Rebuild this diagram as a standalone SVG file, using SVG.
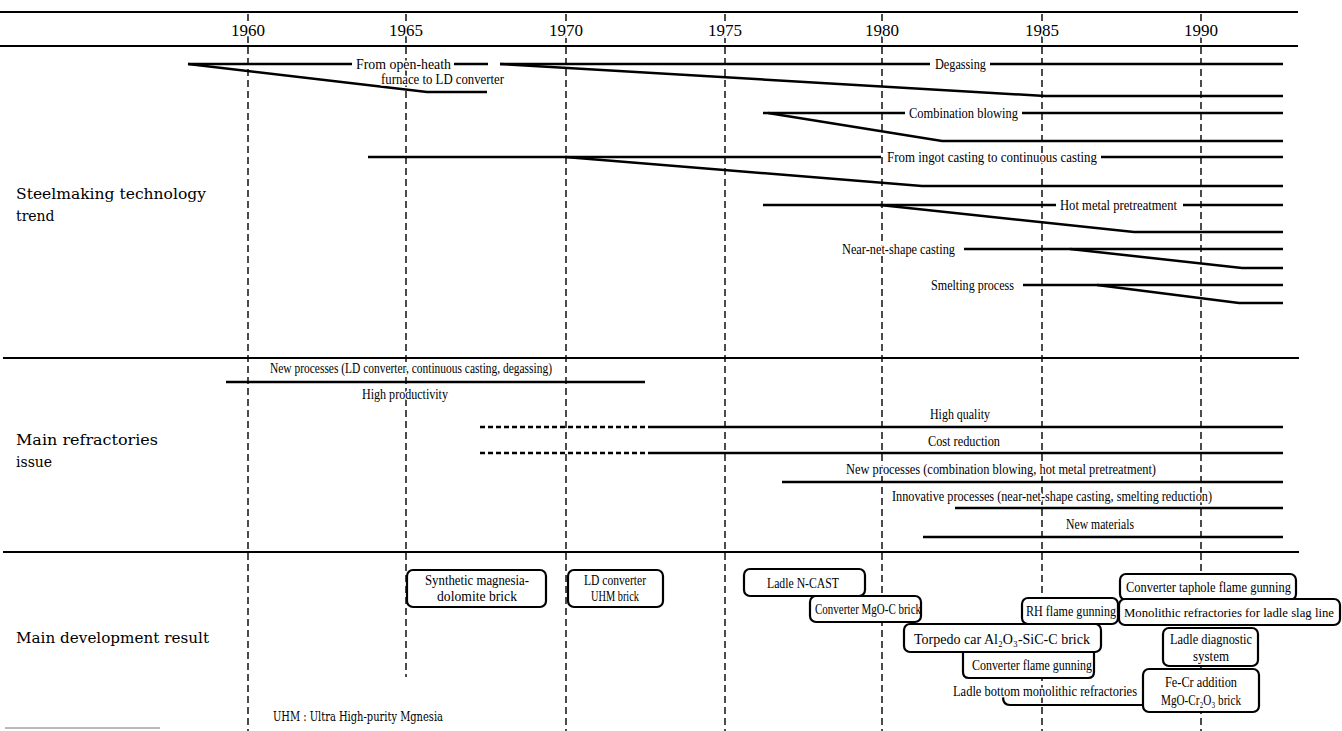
<svg xmlns="http://www.w3.org/2000/svg" width="1342" height="731" viewBox="0 0 1342 731">
<style>
.bg{fill:#fff}
.grid{stroke:#000;stroke-width:1.4;stroke-dasharray:7 4;fill:none}
.rule{stroke:#000;stroke-width:2.2;fill:none}
.ln{stroke:#000;stroke-width:2.5;fill:none;stroke-linecap:butt}
.dash{stroke:#000;stroke-width:2.3;stroke-dasharray:5 3;fill:none}
.yr{font-family:"Liberation Serif","Times New Roman",serif;font-size:17px;text-anchor:middle;fill:#000;stroke:#fff;stroke-width:4;paint-order:stroke}
.t{font-family:"Liberation Serif","Times New Roman",serif;font-size:14.5px;fill:#000;stroke:#fff;stroke-width:3;paint-order:stroke;stroke-linejoin:round}
.bt{font-family:"Liberation Serif","Times New Roman","DejaVu Serif",serif;font-size:14.5px;fill:#000}
.c{text-anchor:middle}
.lab{font-family:"DejaVu Serif","Liberation Serif",serif;font-size:14px;fill:#000}
.box{fill:#fff;stroke:#000;stroke-width:2.2}
.open{fill:none;stroke:#000;stroke-width:2.2}
</style>
<rect class="bg" x="0" y="0" width="1342" height="731"/>

<g id="grid">
  <line class="grid" x1="248" y1="14" x2="248" y2="731"/>
  <line class="grid" x1="406" y1="14" x2="406" y2="677"/>
  <line class="grid" x1="566" y1="14" x2="566" y2="731"/>
  <line class="grid" x1="725" y1="14" x2="725" y2="731"/>
  <line class="grid" x1="882" y1="14" x2="882" y2="731"/>
  <line class="grid" x1="1042" y1="14" x2="1042" y2="731"/>
  <line class="grid" x1="1201" y1="14" x2="1201" y2="731"/>
</g>

<g id="connectors">
  <line class="rule" x1="0" y1="12" x2="1298" y2="12"/>
  <line class="rule" x1="0" y1="46" x2="1298" y2="46"/>
  <line class="rule" x1="3" y1="358" x2="1299" y2="358"/>
  <line class="rule" x1="3" y1="552" x2="1299" y2="552"/>
  <line x1="5" y1="728" x2="160" y2="728" stroke="#777" stroke-width="1"/>

  <!-- open-heath -->
  <polyline class="ln" points="188,64 352,64"/>
  <polyline class="ln" points="454,64 488,64"/>
  <polyline class="ln" points="188,64 427,92 487,92"/>
  <!-- degassing -->
  <polyline class="ln" points="500,64 930,64"/>
  <polyline class="ln" points="990,64 1283,64"/>
  <polyline class="ln" points="500,64 1045,96 1283,96"/>
  <!-- combination blowing -->
  <polyline class="ln" points="763,113 905,113"/>
  <polyline class="ln" points="1022,113 1283,113"/>
  <polyline class="ln" points="768,113 942,141 1283,141"/>
  <!-- ingot casting -->
  <polyline class="ln" points="368,157 881,157"/>
  <polyline class="ln" points="1101,157 1283,157"/>
  <polyline class="ln" points="565,157 922,186 1283,186"/>
  <!-- hot metal -->
  <polyline class="ln" points="763,205 1056,205"/>
  <polyline class="ln" points="1183,205 1283,205"/>
  <polyline class="ln" points="880,205 1134,232 1283,232"/>
  <!-- near-net-shape -->
  <polyline class="ln" points="964,249 1283,249"/>
  <polyline class="ln" points="1070,249 1242,268 1283,268"/>
  <!-- smelting -->
  <polyline class="ln" points="1023,285 1283,285"/>
  <polyline class="ln" points="1097,285 1239,303 1283,303"/>

  <!-- refractories issue lines -->
  <line class="ln" x1="226" y1="382" x2="645" y2="382"/>
  <line class="dash" x1="480" y1="427" x2="648" y2="427"/>
  <line class="ln" x1="648" y1="427" x2="1283" y2="427"/>
  <line class="dash" x1="480" y1="453" x2="648" y2="453"/>
  <line class="ln" x1="648" y1="453" x2="1283" y2="453"/>
  <line class="ln" x1="782" y1="482" x2="1283" y2="482"/>
  <line class="ln" x1="955" y1="508" x2="1283" y2="508"/>
  <line class="ln" x1="923" y1="537" x2="1283" y2="537"/>
</g>

<g id="years">
  <text class="yr" x="248" y="36">1960</text>
  <text class="yr" x="406" y="36">1965</text>
  <text class="yr" x="566" y="36">1970</text>
  <text class="yr" x="725" y="36">1975</text>
  <text class="yr" x="882" y="36">1980</text>
  <text class="yr" x="1042" y="36">1985</text>
  <text class="yr" x="1201" y="36">1990</text>
</g>

<g id="section-labels">
  <text class="lab" x="16" y="199" textLength="190" lengthAdjust="spacingAndGlyphs">Steelmaking technology</text>
  <text class="lab" x="16" y="221">trend</text>
  <text class="lab" x="16" y="445" textLength="142" lengthAdjust="spacingAndGlyphs">Main refractories</text>
  <text class="lab" x="16" y="467">issue</text>
  <text class="lab" x="16" y="643" textLength="193" lengthAdjust="spacingAndGlyphs">Main development result</text>
  <text class="lab" x="273" y="721" style="font-size:13px" textLength="170" lengthAdjust="spacingAndGlyphs">UHM : Ultra High-purity Mgnesia</text>
</g>

<g id="trend-open-heath">
  <text class="t" x="356" y="69" textLength="95" lengthAdjust="spacingAndGlyphs">From open-heath</text>
  <text class="t" x="381" y="84" textLength="123" lengthAdjust="spacingAndGlyphs">furnace to LD converter</text>
</g>
<g id="trend-degassing"><text class="t" x="935" y="69" textLength="51" lengthAdjust="spacingAndGlyphs">Degassing</text></g>
<g id="trend-combination"><text class="t" x="909" y="118" textLength="109" lengthAdjust="spacingAndGlyphs">Combination blowing</text></g>
<g id="trend-ingot"><text class="t" x="887" y="162" textLength="210" lengthAdjust="spacingAndGlyphs">From ingot casting to continuous casting</text></g>
<g id="trend-hotmetal"><text class="t" x="1060" y="210" textLength="117" lengthAdjust="spacingAndGlyphs">Hot metal pretreatment</text></g>
<g id="trend-nearnet"><text class="t" x="842" y="254" textLength="113" lengthAdjust="spacingAndGlyphs">Near-net-shape casting</text></g>
<g id="trend-smelting"><text class="t" x="931" y="290" textLength="83" lengthAdjust="spacingAndGlyphs">Smelting process</text></g>

<g id="issue-new-processes-1"><text class="t" x="270" y="373" textLength="282" lengthAdjust="spacingAndGlyphs">New processes (LD converter, continuous casting, degassing)</text></g>
<g id="issue-high-productivity"><text class="t" x="362" y="399" textLength="86" lengthAdjust="spacingAndGlyphs">High productivity</text></g>
<g id="issue-high-quality"><text class="t" x="930" y="419" textLength="60" lengthAdjust="spacingAndGlyphs">High quality</text></g>
<g id="issue-cost"><text class="t" x="928" y="446" textLength="72" lengthAdjust="spacingAndGlyphs">Cost reduction</text></g>
<g id="issue-new-processes-2"><text class="t" x="846" y="474" textLength="310" lengthAdjust="spacingAndGlyphs">New processes (combination blowing, hot metal pretreatment)</text></g>
<g id="issue-innovative"><text class="t" x="892" y="501" textLength="320" lengthAdjust="spacingAndGlyphs">Innovative processes (near-net-shape casting, smelting reduction)</text></g>
<g id="issue-new-materials"><text class="t" x="1066" y="529" textLength="68" lengthAdjust="spacingAndGlyphs">New materials</text></g>

<g id="res-synthetic">
  <rect class="box" x="407" y="570" width="139" height="37" rx="6"/>
  <text class="bt c" x="477" y="585" textLength="104" lengthAdjust="spacingAndGlyphs">Synthetic magnesia-</text>
  <text class="bt c" x="477" y="601" textLength="80" lengthAdjust="spacingAndGlyphs">dolomite brick</text>
</g>
<g id="res-ld-uhm">
  <rect class="box" x="568" y="570" width="95" height="37" rx="6"/>
  <text class="bt c" x="615" y="585" textLength="62" lengthAdjust="spacingAndGlyphs">LD converter</text>
  <text class="bt c" x="615" y="601" textLength="48" lengthAdjust="spacingAndGlyphs">UHM brick</text>
</g>
<g id="res-ladle-ncast">
  <rect class="box" x="744" y="569" width="121" height="27" rx="6"/>
  <text class="bt c" x="803" y="588" textLength="72" lengthAdjust="spacingAndGlyphs">Ladle N-CAST</text>
</g>
<g id="res-mgoc">
  <rect class="box" x="810" y="596" width="111" height="26" rx="6"/>
  <text class="bt" x="815" y="614" textLength="106" lengthAdjust="spacingAndGlyphs">Converter MgO-C brick</text>
</g>
<g id="res-torpedo">
  <rect class="box" x="904" y="624" width="197" height="28" rx="6"/>
  <text class="bt c" x="1002" y="644" textLength="176" lengthAdjust="spacingAndGlyphs">Torpedo car Al₂O₃-SiC-C brick</text>
</g>
<g id="res-conv-flame">
  <path class="box" d="M963,652 L1094,652 L1094,672 Q1094,678 1088,678 L969,678 Q963,678 963,672 Z"/>
  <text class="bt" x="972" y="670" textLength="120" lengthAdjust="spacingAndGlyphs">Converter flame gunning</text>
</g>
<g id="res-ladle-bottom">
  <path class="open" d="M1003,697 Q1003,705 1010,705 L1143,705"/>
  <text class="t" x="953" y="696" textLength="184" lengthAdjust="spacingAndGlyphs">Ladle bottom monolithic refractories</text>
</g>
<g id="res-rh">
  <rect class="box" x="1022" y="598" width="96" height="26" rx="6"/>
  <text class="bt" x="1026" y="616" textLength="90" lengthAdjust="spacingAndGlyphs">RH flame gunning</text>
</g>
<g id="res-taphole">
  <rect class="box" x="1120" y="574" width="176" height="26" rx="6"/>
  <text class="bt" x="1126" y="592" textLength="165" lengthAdjust="spacingAndGlyphs">Converter taphole flame gunning</text>
</g>
<g id="res-slag-line">
  <rect class="box" x="1119" y="599" width="221" height="26" rx="6"/>
  <text class="bt" x="1124" y="617" style="font-size:13px" textLength="210" lengthAdjust="spacingAndGlyphs">Monolithic refractories for ladle slag line</text>
</g>
<g id="res-diagnostic">
  <rect class="box" x="1163" y="628" width="95" height="38" rx="6"/>
  <text class="bt c" x="1211" y="644" textLength="82" lengthAdjust="spacingAndGlyphs">Ladle diagnostic</text>
  <text class="bt c" x="1211" y="661" textLength="36" lengthAdjust="spacingAndGlyphs">system</text>
</g>
<g id="res-fecr">
  <rect class="box" x="1143" y="669" width="116" height="43" rx="6"/>
  <text class="bt c" x="1201" y="687" textLength="72" lengthAdjust="spacingAndGlyphs">Fe-Cr addition</text>
  <text class="bt c" x="1201" y="705" textLength="80" lengthAdjust="spacingAndGlyphs">MgO-Cr₂O₃ brick</text>
</g>
</svg>
